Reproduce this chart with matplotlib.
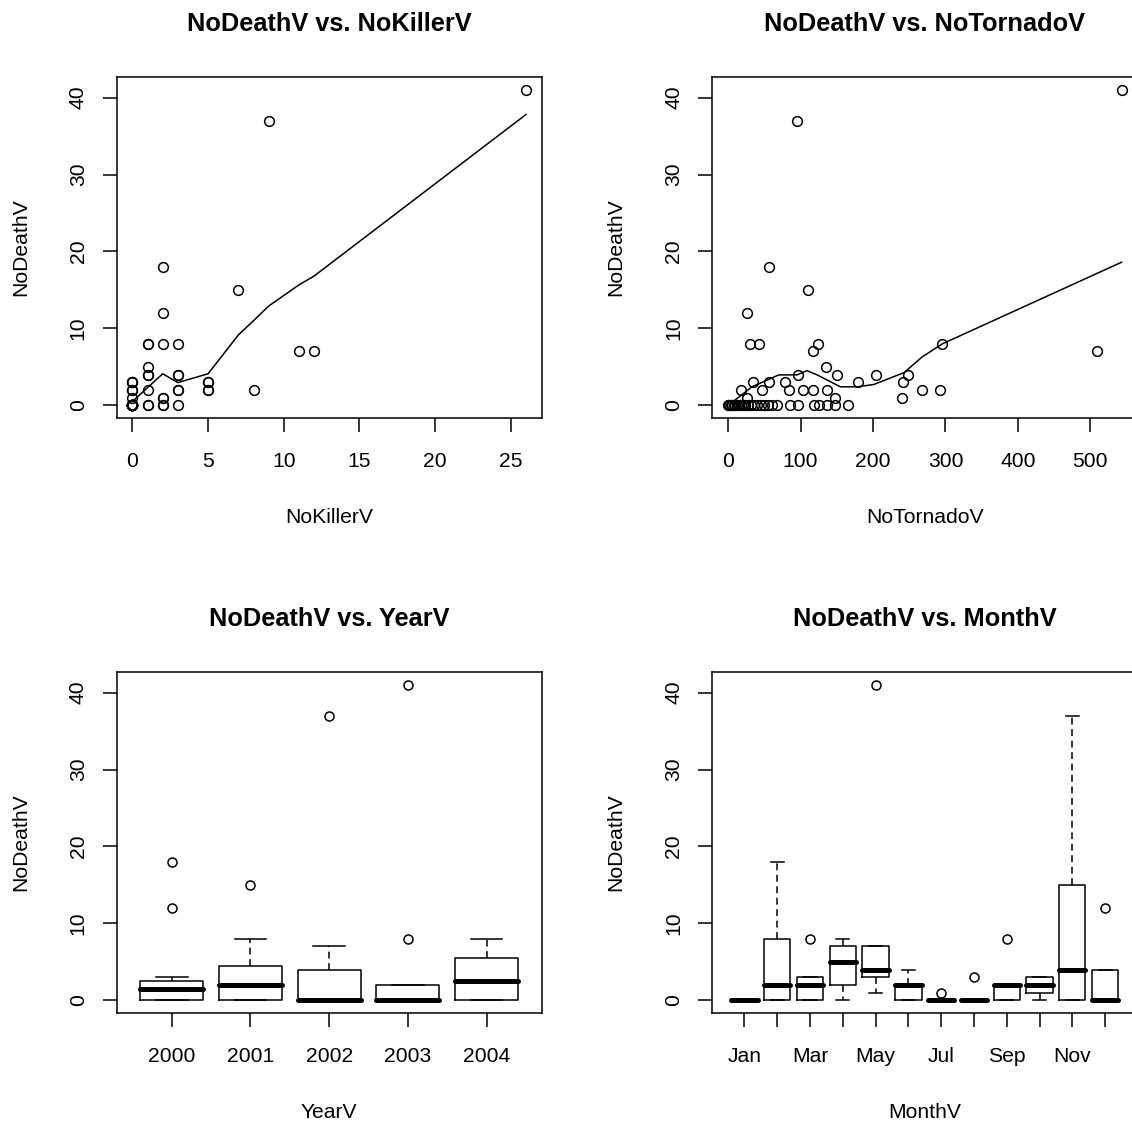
import numpy as np
import matplotlib
matplotlib.use("Agg")
import matplotlib.pyplot as plt

plt.rcParams['font.family'] = ['Liberation Sans', 'DejaVu Sans']

years = [2000, 2001, 2002, 2003, 2004]
months = ['Jan', 'Feb', 'Mar', 'Apr', 'May', 'Jun',
          'Jul', 'Aug', 'Sep', 'Oct', 'Nov', 'Dec']

# one row per year, Jan..Dec
death = [[0, 18, 2, 2, 1, 2, 0, 0, 0, 3, 0, 12],
         [0, 2, 8, 5, 3, 0, 0, 0, 2, 1, 15, 4],
         [0, 0, 0, 7, 4, 4, 0, 3, 0, 0, 37, 0],
         [0, 0, 0, 0, 41, 2, 0, 0, 8, 2, 0, 0],
         [0, 8, 3, 8, 7, 0, 1, 0, 2, 3, 4, 0]]
killer = [[0, 2, 0, 1, 0, 3, 0, 0, 1, 0, 0, 2],
          [0, 3, 1, 1, 5, 0, 0, 0, 5, 2, 7, 1],
          [0, 0, 0, 11, 3, 3, 0, 0, 0, 2, 9, 0],
          [0, 1, 0, 3, 26, 8, 0, 0, 2, 0, 2, 0],
          [0, 3, 5, 1, 12, 0, 2, 0, 5, 0, 1, 0]]
tornado = [[4, 56, 47, 103, 148, 84, 85, 12, 45, 34, 18, 26],
           [2, 18, 124, 135, 179, 125, 61, 21, 136, 26, 111, 97],
           [8, 0, 28, 117, 248, 150, 67, 57, 36, 97, 95, 6],
           [10, 15, 40, 119, 543, 268, 165, 55, 43, 117, 148, 1],
           [24, 30, 241, 295, 509, 136, 240, 50, 292, 79, 204, 32]]

# smoothed (lowess) curves
killer_fit_x = [0, 1, 2, 3, 5, 7, 8, 9, 11, 12, 26]
killer_fit_y = [0.5, 2.3, 4.1, 2.95, 4.1, 9.15, 11.0, 12.9, 15.65, 16.8, 37.8]
tornado_fit_x = [10, 33, 70, 95, 109, 123, 155, 178, 201, 243, 268, 296, 543]
tornado_fit_y = [0.7, 2.4, 3.95, 3.95, 4.5, 3.95, 2.4, 2.4, 2.7, 4.25, 6.3, 8.0, 18.6]

death = np.array(death)
killer = np.array(killer)
tornado = np.array(tornado)

W, H = 1132, 1122
fig = plt.figure(figsize=(W / 100, H / 100), dpi=100)


def make_ax(left, top):
    width = 425.0
    height = 340.6
    return fig.add_axes([left / W, (H - top - height) / H, width / W, height / H])


def r_stats(vals):
    # R boxplot.stats: Tukey hinges, 1.5 IQR whiskers
    v = np.sort(np.asarray(vals, float))
    n = len(v)
    n4 = np.floor((n + 3) / 2) / 2
    d = np.array([1, n4, (n + 1) / 2, n + 1 - n4, n]) - 1
    fn = 0.5 * (v[np.floor(d).astype(int)] + v[np.ceil(d).astype(int)])
    iqr = fn[3] - fn[1]
    lo, hi = fn[1] - 1.5 * iqr, fn[3] + 1.5 * iqr
    inside = v[(v >= lo) & (v <= hi)]
    return dict(med=fn[2], q1=fn[1], q3=fn[3],
                whislo=inside.min(), whishi=inside.max(),
                fliers=v[(v < lo) | (v > hi)])


def style(ax, title, xlabel):
    ax.set_title(title, fontsize=18.3, fontweight='bold', pad=33.5)
    ax.set_xlabel(xlabel, fontsize=15.2, labelpad=27)
    ax.set_ylabel('NoDeathV', fontsize=15.2, labelpad=28)
    ax.set_ylim(-1.64, 42.64)
    ax.set_yticks([0, 10, 20, 30, 40])
    ax.tick_params(direction='out', length=10.4, width=1.1,
                   labelsize=15.2, pad=14)
    ax.tick_params(axis='y', labelrotation=90, pad=10.5)
    plt.setp(ax.get_yticklabels(), va='center')
    for s in ax.spines.values():
        s.set_linewidth(1.1)


pt_kw = dict(linestyle='none', marker='o', mfc='none', mec='k', ms=7.0, mew=1.1)

d_all = death.ravel()

# NoKillerV
ax1 = make_ax(116.7, 77.3)
ax1.plot(killer.ravel(), d_all, **pt_kw)
ax1.plot(killer_fit_x, killer_fit_y, color='k', lw=1.1)
ax1.set_xlim(-1.04, 27.04)
ax1.set_xticks([0, 5, 10, 15, 20, 25])
style(ax1, 'NoDeathV vs. NoKillerV', 'NoKillerV')

# NoTornadoV
ax2 = make_ax(712.3, 77.3)
ax2.plot(tornado.ravel(), d_all, **pt_kw)
ax2.plot(tornado_fit_x, tornado_fit_y, color='k', lw=1.1)
tmin, tmax = tornado.min(), tornado.max()
pad = 0.04 * (tmax - tmin)
ax2.set_xlim(tmin - pad, tmax + pad)
ax2.set_xticks([0, 100, 200, 300, 400, 500])
style(ax2, 'NoDeathV vs. NoTornadoV', 'NoTornadoV')

box_kw = dict(widths=0.8, capwidths=0.4, showfliers=True,
              boxprops=dict(color='k', lw=1.1),
              medianprops=dict(color='k', lw=3.6, solid_capstyle='round'),
              whiskerprops=dict(color='k', lw=1.1, linestyle=(0, (4.5, 3))),
              capprops=dict(color='k', lw=1.1),
              flierprops=dict(marker='o', mfc='none', mec='k', ms=6.5,
                              mew=1.1, linestyle='none'))

# YearV
ax3 = make_ax(116.7, 672.3)
stats_y = [r_stats(death[i]) for i in range(len(years))]
ax3.bxp(stats_y, positions=range(1, len(years) + 1), **box_kw)
ax3.set_xlim(0.3, len(years) + 0.7)
ax3.set_xticks(range(1, len(years) + 1))
ax3.set_xticklabels([str(y) for y in years])
style(ax3, 'NoDeathV vs. YearV', 'YearV')

# MonthV
ax4 = make_ax(712.3, 672.3)
stats_m = [r_stats(death[:, j]) for j in range(len(months))]
ax4.bxp(stats_m, positions=range(1, len(months) + 1), **box_kw)
ax4.set_xlim(0.02, len(months) + 0.98)
ax4.set_xticks(range(1, len(months) + 1))
ax4.set_xticklabels([m if i % 2 == 0 else '' for i, m in enumerate(months)])
style(ax4, 'NoDeathV vs. MonthV', 'MonthV')

fig.savefig('out.png', dpi=100)
